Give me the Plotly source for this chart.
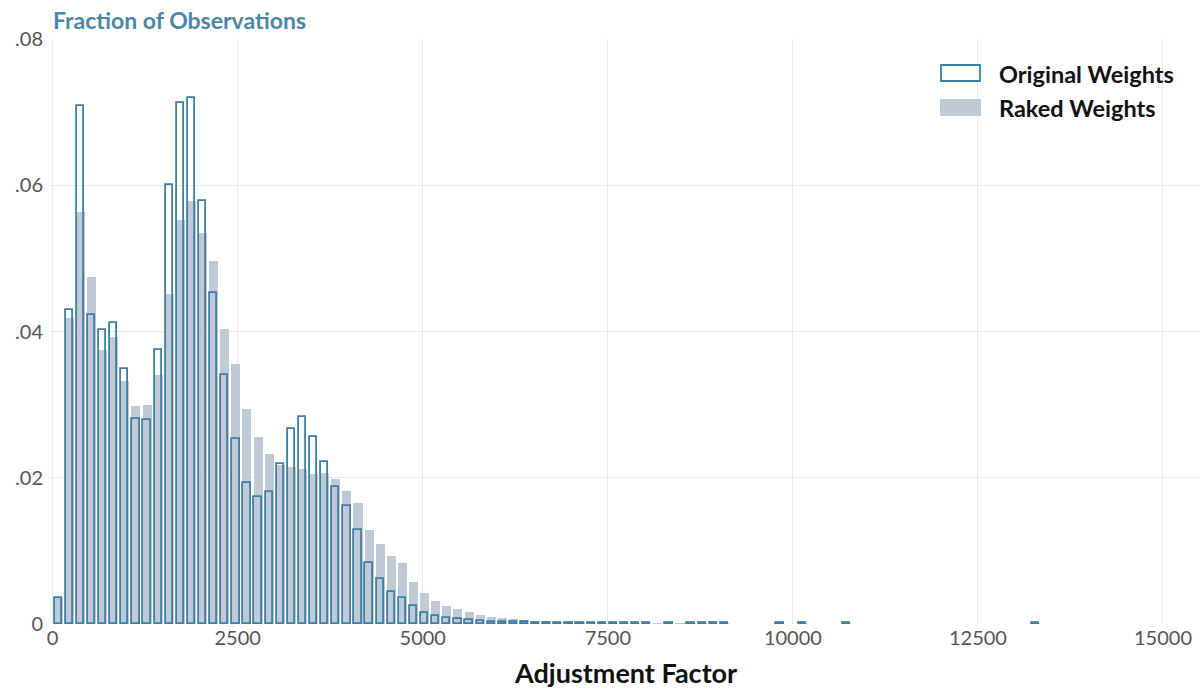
import plotly.graph_objects as go

# ---- data (fraction of observations per 150-wide bin) ----
bin_width = 150
n_bins = 89
bin_start = [i * bin_width for i in range(n_bins)]

original_weights = [
    0.0036, 0.0429, 0.0709, 0.0423, 0.0402, 0.0411, 0.0349, 0.0280, 0.0279, 0.0375,
    0.0600, 0.0712, 0.0720, 0.0579, 0.0453, 0.0341, 0.0253, 0.0193, 0.0173, 0.0180,
    0.0219, 0.0267, 0.0283, 0.0256, 0.0221, 0.0188, 0.0161, 0.0128, 0.0084, 0.0062,
    0.0044, 0.0035, 0.0025, 0.0015, 0.0011, 0.0008, 0.0007, 0.0005, 0.0004, 0.0003,
    0.0003, 0.0003, 0.00025, 0.0002, 0.0002, 0.0002, 0.00015, 0.0001, 0.0001, 0.0001,
    0.0001, 0.0001, 0.0001, 0.0001, None, 0.0001, None, 0.0001, 0.0001, 0.0001,
    0.0001, None, None, None, None, 0.0001, None, 0.0001, None, None,
    None, 0.0001, None, None, None, None, None, None, None, None,
    None, None, None, None, None, None, None, None, 0.0001,
]

raked_weights = [
    0.0036, 0.0418, 0.0563, 0.0475, 0.0375, 0.0392, 0.0332, 0.0298, 0.0300, 0.0341,
    0.0451, 0.0553, 0.0578, 0.0535, 0.0497, 0.0403, 0.0355, 0.0294, 0.0256, 0.0233,
    0.0217, 0.0215, 0.0212, 0.0205, 0.0207, 0.0198, 0.0182, 0.0165, 0.0128, 0.0110,
    0.0093, 0.0084, 0.0058, 0.0042, 0.0031, 0.0024, 0.0021, 0.0017, 0.0012, 0.0010,
    0.0008, 0.0007, 0.0005, 0.0004, 0.00035, 0.0003, 0.00025, 0.0002, 0.00015, 0.00012,
    0.0001, 0.0001, 0.00008, 0.00006, 0.00005, 0.00005, 0.00004, 0.00004, 0.00003, 0.00003,
    0.00003, None, None, None, None, 0.00002, None, 0.00002, None, None,
    None, 0.00002, None, None, None, None, None, None, None, None,
    None, None, None, None, None, None, None, None, 0.00002,
]

x_tick_vals = [0, 2500, 5000, 7500, 10000, 12500, 15000]
x_tick_text = ["0", "2500", "5000", "7500", "10000", "12500", "15000"]
y_tick_vals = [0, 0.02, 0.04, 0.06, 0.08]
y_tick_text = ["0", ".02", ".04", ".06", ".08"]

series_names = ["Original Weights", "Raked Weights"]

# ---- styles ----
BLUE = "#3e7fa3"
GRAY = "#bfcad6"
FONT = "Lato"

bin_center = [s + bin_width / 2 for s in bin_start]

fig = go.Figure()
fig.add_trace(go.Bar(
    x=bin_center, y=raked_weights, width=122,
    marker=dict(color=GRAY, line=dict(width=0)),
    name=series_names[1], showlegend=False,
))
fig.add_trace(go.Bar(
    x=bin_center, y=original_weights, width=98,
    marker=dict(color="rgba(0,0,0,0)", line=dict(color=BLUE, width=1.8)),
    name=series_names[0], showlegend=False,
))

fig.update_layout(
    width=1201, height=690,
    margin=dict(l=50, r=1, t=39, b=66),
    paper_bgcolor="white", plot_bgcolor="white",
    barmode="overlay",
    font=dict(family=FONT, color="#555555"),
    xaxis=dict(
        range=[-36, 15500], tickvals=x_tick_vals, ticktext=x_tick_text,
        showgrid=True, gridcolor="#ebebeb", gridwidth=1, zeroline=False,
        showline=False, ticks="", tickfont=dict(family=FONT, size=20, color="#555555"),
    ),
    yaxis=dict(
        range=[0, 0.08], tickvals=y_tick_vals, ticktext=y_tick_text,
        showgrid=True, gridcolor="#ebebeb", gridwidth=1, zeroline=False,
        showline=False, ticks="", ticklabelstandoff=6,
        tickfont=dict(family=FONT, size=20, color="#555555"),
    ),
    bargap=0,
)

# title / axis label
fig.add_annotation(
    text="<b>Fraction of Observations</b>", xref="paper", yref="paper",
    x=0, y=1, xanchor="left", yanchor="bottom", xshift=1, yshift=3, showarrow=False,
    font=dict(family=FONT, size=23, color="#4a87ab"),
)
fig.add_annotation(
    text="<b>Adjustment Factor</b>", xref="paper", yref="paper",
    x=0.5, y=0, xanchor="center", yanchor="bottom", yshift=-66, showarrow=False,
    borderpad=0, font=dict(family=FONT, size=27, color="#111111"),
)

# custom legend (symbols + labels)
def px_to_paper_x(px):
    return (px - 50) / (1201 - 50 - 1)

def px_to_paper_y(py):
    return 1 - (py - 39) / (690 - 39 - 66)

fig.add_shape(type="rect", xref="paper", yref="paper",
              x0=px_to_paper_x(941), x1=px_to_paper_x(980),
              y0=px_to_paper_y(81), y1=px_to_paper_y(65),
              line=dict(color=BLUE, width=1.8), fillcolor="white")
fig.add_shape(type="rect", xref="paper", yref="paper",
              x0=px_to_paper_x(940), x1=px_to_paper_x(981),
              y0=px_to_paper_y(116), y1=px_to_paper_y(99),
              line=dict(width=0), fillcolor=GRAY)
fig.add_annotation(
    text="<b>" + series_names[0] + "</b>", xref="paper", yref="paper",
    x=px_to_paper_x(997), y=px_to_paper_y(74), xanchor="left", yanchor="middle",
    showarrow=False, font=dict(family=FONT, size=23.5, color="#111111"),
)
fig.add_annotation(
    text="<b>" + series_names[1] + "</b>", xref="paper", yref="paper",
    x=px_to_paper_x(997), y=px_to_paper_y(108), xanchor="left", yanchor="middle",
    showarrow=False, font=dict(family=FONT, size=23.5, color="#111111"),
)

fig.write_html("out.html", config={"displayModeBar": False},
               post_script="document.body.style.margin='0';")
